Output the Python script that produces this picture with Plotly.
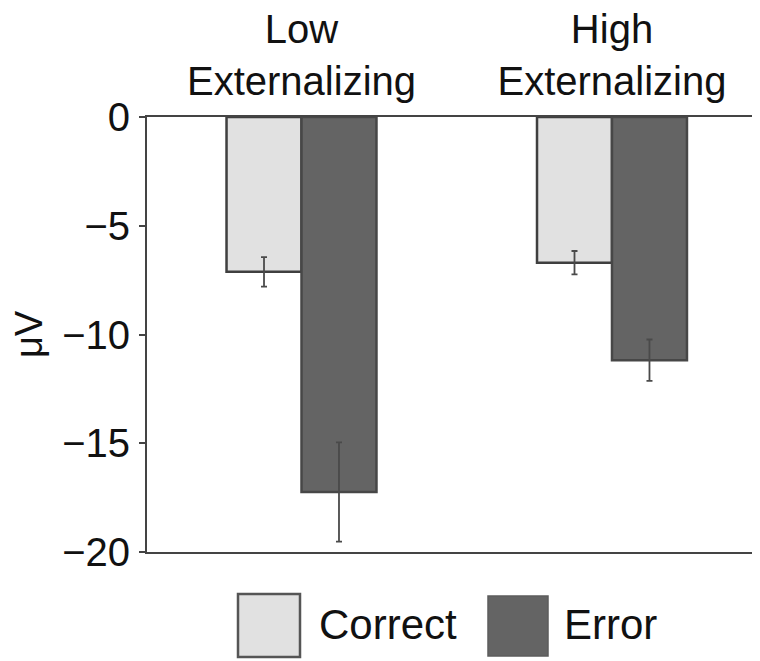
import plotly.graph_objects as go

groups = ["Low<br>Externalizing", "High<br>Externalizing"]
group_pos = [0, 1]
conditions = ["Correct", "Error"]
correct_vals = [-7.12, -6.70]
correct_err = [0.68, 0.54]
error_vals = [-17.24, -11.18]
error_err = [2.28, 0.95]
y_ticks = [0, -5, -10, -15, -20]

FONT = "Liberation Sans, Arial, sans-serif"
OFF = 8  # page body margin offset
L, R, T, B = 139, 0, 109, 109
W, H = 752, 653
PW, PH = W - L - R, H - T - B
PL, PB = OFF + L, OFF + T + PH  # plot-area left and bottom in page pixels

bar_w = 0.2415

fig = go.Figure()
fig.add_trace(go.Bar(
    x=group_pos, y=correct_vals, name=conditions[0],
    width=bar_w, offset=-bar_w,
    marker=dict(color="#e1e1e1", line=dict(color="#3f3f3f", width=2.5)),
    error_y=dict(type="data", array=correct_err, color="#4a4a4a", thickness=1.8, width=3),
))
fig.add_trace(go.Bar(
    x=group_pos, y=error_vals, name=conditions[1],
    width=bar_w, offset=0,
    marker=dict(color="#646464", line=dict(color="#474747", width=2.5)),
    error_y=dict(type="data", array=error_err, color="#4a4a4a", thickness=1.8, width=3),
))

def px_x(px):
    return (px - PL) / PW

def px_y(py):
    return (PB - py) / PH

shapes = [
    dict(type="rect", xref="paper", yref="paper",
         x0=px_x(238), x1=px_x(300), y0=px_y(657), y1=px_y(594),
         fillcolor="#e1e1e1", line=dict(color="#555555", width=2.5)),
    dict(type="rect", xref="paper", yref="paper",
         x0=px_x(488), x1=px_x(548), y0=px_y(656), y1=px_y(596),
         fillcolor="#646464", line=dict(color="#5c5c5c", width=1.5)),
]
annotations = [
    dict(text=conditions[0], xref="paper", yref="paper", x=px_x(317), y=px_y(624),
         xanchor="left", yanchor="middle", showarrow=False,
         font=dict(family=FONT, size=42, color="#111111")),
    dict(text=conditions[1], xref="paper", yref="paper", x=px_x(562), y=px_y(624),
         xanchor="left", yanchor="middle", showarrow=False,
         font=dict(family=FONT, size=42, color="#111111")),
]

fig.update_layout(
    width=W, height=H,
    margin=dict(l=L, r=R, t=T, b=B, pad=0),
    paper_bgcolor="white", plot_bgcolor="white",
    barmode="overlay",
    showlegend=False,
    shapes=shapes,
    annotations=annotations,
    font=dict(family=FONT, color="#111111"),
    xaxis=dict(
        side="top", range=[-0.4976, 1.4767],
        tickvals=group_pos, ticktext=groups,
        ticks="", showgrid=False, zeroline=False,
        showline=True, mirror=True, linecolor="#444444", linewidth=2,
        tickfont=dict(family=FONT, size=40, color="#111111"),
        ticklabelstandoff=4,
    ),
    yaxis=dict(
        range=[-20, 0], tickvals=y_ticks,
        ticks="outside", ticklen=6, tickwidth=2, tickcolor="#444444",
        showgrid=False, zeroline=False,
        showline=True, linecolor="#444444", linewidth=2,
        tickfont=dict(family=FONT, size=40, color="#111111"),
        ticklabelstandoff=1,
        title=dict(text="μV", font=dict(family=FONT, size=38, color="#111111"), standoff=22),
    ),
)

fig.write_html("out.html")
